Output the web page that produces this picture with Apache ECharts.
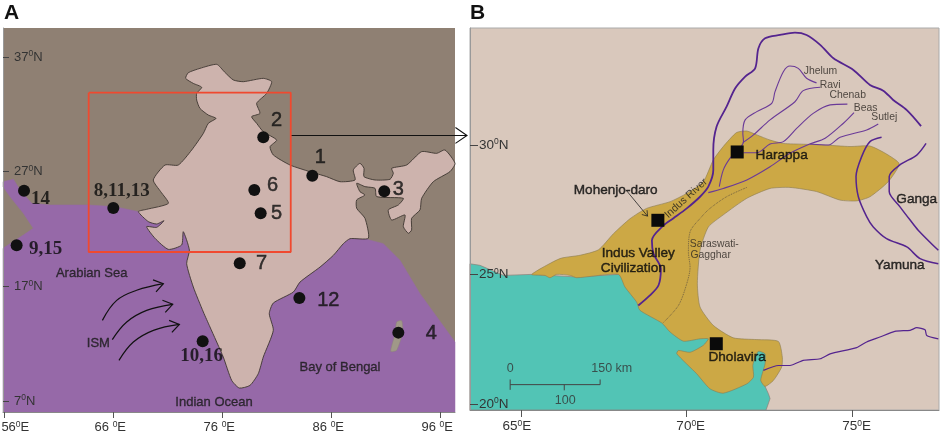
<!DOCTYPE html>
<html><head><meta charset="utf-8">
<script src="https://cdn.jsdelivr.net/npm/echarts@6/dist/echarts.min.js"></script>
<style>html,body{margin:0;padding:0;background:#fff}#c{width:941px;height:437px}</style>
</head><body><div id="c"></div>
<script>
// ---------- Panel A data (lon, lat) ----------
const indiaOutline=[[75.49,36.36],[76.2,35.7],[77.01,35.0],[77.93,34.85],[79.76,35.14],[80.53,34.85],[80.07,33.83],[79.15,32.96],[79.46,32.09],[78.69,31.8],[79.15,31.22],[79.76,30.49],[80.99,29.76],[80.38,29.18],[80.68,28.46],[82.22,27.58],[84.05,27.0],[85.57,26.57],[86.8,26.13],[88.18,26.28],[88.02,27.15],[88.63,27.73],[89.0,27.3],[89.0,26.57],[90.01,26.28],[91.39,26.34],[91.69,26.86],[91.54,27.3],[92.92,27.59],[94.29,28.75],[95.67,28.6],[96.43,28.9],[97.35,27.73],[96.89,27.01],[95.36,26.13],[94.29,24.68],[94.14,23.67],[93.37,22.94],[93.37,21.92],[93.07,21.63],[92.61,22.21],[92.76,23.23],[91.54,22.79],[91.23,23.67],[92.15,24.1],[92.61,24.68],[90.16,24.83],[90.01,25.55],[89.09,25.7],[88.33,25.99],[88.63,25.26],[89.09,24.97],[88.33,24.54],[88.33,23.81],[89.09,22.94],[89.4,21.2],[87.72,21.16],[87.11,20.73],[86.19,19.71],[84.97,18.69],[83.13,17.38],[82.52,16.51],[80.68,15.55],[80.31,14.62],[80.68,13.17],[79.76,10.84],[79.3,9.39],[78.54,8.37],[77.56,8.14],[76.86,8.81],[76.09,10.84],[74.87,13.46],[74.26,14.77],[73.34,16.95],[72.73,18.98],[72.98,20.17],[72.42,21.77],[72.27,20.61],[71.05,20.23],[69.83,21.19],[69.06,22.21],[69.98,22.15],[70.65,22.73],[69.98,22.44],[69.21,22.65],[68.3,23.52],[69.06,23.72],[71.05,24.24],[70.35,25.26],[69.67,26.28],[70.74,27.58],[71.96,27.58],[73.19,28.89],[74.26,30.34],[74.72,31.22],[75.42,31.65],[74.72,31.94],[73.95,32.52],[73.65,33.25],[73.65,33.83],[74.11,34.36],[73.34,34.7],[72.64,35.14],[72.88,35.63],[73.95,36.01]];
const oceanA=[[55.88,6.05],[55.88,20.32],[57.75,21.48],[58.66,22.06],[57.75,23.37],[56.52,24.83],[55.88,25.7],[55.88,26.13],[56.83,26.34],[57.44,25.41],[58.51,24.24],[60.19,24.1],[63.71,24.1],[66.16,23.95],[68.3,23.52],[72,23],[85,23],[88,22],[89.4,21.07],[90.77,20.73],[92.3,19.27],[94.14,16.37],[97.35,12.15],[97.35,6.05]];
const andaman=[[92.0,13.9],[92.46,14.0],[92.55,13.02],[92.0,11.43],[91.45,11.34],[91.85,12.88]];
const studyBox=[[63.74,33.89],[82.28,33.89],[82.28,20.0],[63.74,20.0],[63.74,33.89]];
const zoomArrow=[[82.28,30.16],[98.45,30.16]];
const ismArrow1=[[65.0,14.04],[66.31,15.78],[68.14,16.66],[70.59,17.24]];
const ismArrow2=[[65.91,12.36],[67.23,13.9],[69.06,14.91],[71.45,15.44]];
const ismArrow3=[[66.52,10.55],[67.84,12.15],[69.68,13.17],[72.06,13.69]];
const sites=[[84.26,26.65],[79.76,30.0],[90.86,25.29],[92.15,12.97],[79.52,23.37],[78.94,25.4],[77.6,19.01],[66.0,23.83],[57.13,20.58],[74.2,12.21],[83.07,15.99],[57.81,25.35]];
const siteNumbersSans=[[84.99,28.22,'1'],[80.99,31.51,'2'],[92.15,25.49,'3'],[95.18,12.88,'4'],[80.99,23.37,'5'],[80.62,25.78,'6'],[79.61,18.98,'7'],[85.73,15.73,'12']];
const siteNumbersSerif=[[66.77,25.35,'8,11,13'],[59.31,24.62,'14'],[59.79,20.29,'9,15'],[74.11,10.9,'10,16']];
const placeLabelsA=[[64.02,18.17,'Arabian Sea'],[64.63,12.06,'ISM'],[86.8,9.91,'Bay of Bengal'],[75.24,6.86,'Indian Ocean']];
const lonTicksA=[56,66,76,86,96];
const latTicksA=[7,17,27,37];

// ---------- Panel B data (lon, lat) ----------
const seaB=[[63.47,25.41],[63.77,25.35],[64.48,24.96],[65.33,25.0],[66.69,24.9],[67.94,25.0],[69.5,24.0],[70.6,22.6],[71.5,22.3],[72.2,22.2],[72.5,21.9],[72.5,21.0],[72.36,20.67],[72.46,20.39],[72.51,20.2],[72.39,19.76],[63.47,19.76]];
const civilization=[[71.81,30.54],[72.11,30.39],[72.51,30.19],[72.91,30.06],[73.51,30.03],[74.12,30.0],[74.92,29.94],[75.52,29.96],[76.02,29.65],[76.4,29.27],[76.07,28.58],[75.52,28.0],[75.12,27.84],[74.62,27.87],[73.91,28.2],[73.11,28.36],[72.51,28.32],[71.81,27.94],[71.1,27.3],[70.65,26.83],[70.4,25.93],[70.32,24.64],[70.4,23.74],[70.8,23.03],[71.4,22.55],[72.11,22.48],[72.76,22.41],[72.88,21.8],[72.86,21.42],[72.61,20.9],[72.36,20.67],[72.23,20.9],[72.29,21.23],[72.36,21.55],[72.36,21.93],[72.16,22.03],[72.06,21.81],[71.99,21.48],[72.01,21.03],[71.81,20.77],[71.1,20.41],[70.7,20.58],[70.3,21.16],[69.7,21.93],[69.75,22.06],[70.1,21.99],[70.5,22.26],[70.65,22.51],[70.4,22.51],[69.9,22.42],[69.5,22.77],[69.25,23.12],[68.59,23.61],[68.49,23.93],[68.14,24.51],[67.94,25.0],[66.69,24.87],[66.49,24.96],[66.08,25.0],[65.88,24.87],[65.73,24.96],[65.33,25.0],[66.18,25.61],[66.79,25.74],[67.34,25.95],[67.79,26.57],[68.29,27.15],[68.79,27.55],[69.5,27.81],[70.0,28.13],[70.5,28.58],[70.8,29.42],[71.1,29.94],[71.5,30.48]];
const indusRiver=[[77.06,30.73],[76.63,31.35],[76.22,31.74],[75.92,32.1],[75.52,32.32],[75.02,32.9],[74.42,33.35],[74.02,33.87],[73.61,34.25],[73.26,34.34],[72.81,34.25],[72.36,34.12],[72.16,33.74],[72.06,32.96],[71.76,32.64],[71.46,32.19],[71.2,31.48],[70.9,30.71],[70.8,29.81],[70.8,29.03],[70.65,28.39],[70.4,28.0],[70.0,27.55],[69.6,27.17],[69.3,26.89],[68.95,26.31],[69.0,25.8],[69.22,25.22],[69.15,24.58],[68.89,24.19],[68.54,23.8]];
const jhelum=[[73.91,32.4],[73.61,32.58],[73.36,32.96],[73.11,33.05],[72.91,32.83],[72.66,32.06],[72.56,31.61],[72.11,31.29],[71.76,30.97],[71.69,30.45],[71.71,30.13],[71.3,29.48],[71.1,29.03],[70.98,28.39]];
const ravi=[[74.02,32.23],[73.51,32.1],[73.26,31.67],[72.51,30.97],[72.01,30.39],[71.69,30.09]];
const chenab=[[74.84,31.58],[74.32,31.55],[73.81,31.22],[73.31,30.64],[72.91,30.13],[72.51,30.04],[72.11,29.7],[71.71,29.7]];
const beas=[[75.04,31.25],[74.72,30.84],[74.17,30.26],[73.71,30.04],[73.11,29.68],[72.51,29.16],[71.81,28.65],[71.1,28.32],[70.65,28.16]];
const sutlej=[[75.77,30.81],[75.42,30.58],[74.62,30.3],[74.27,30.0],[73.71,30.04]];
const yamuna=[[75.87,30.3],[75.52,30.13],[75.27,29.55],[75.1,28.78],[75.17,28.0],[75.42,27.23],[75.62,26.83],[76.02,26.38],[76.63,26.06],[77.03,25.61],[77.58,25.41]];
const ganga=[[77.21,30.06],[76.93,29.61],[76.42,29.23],[76.1,28.78],[76.1,28.2],[76.42,27.62],[76.73,27.1],[76.98,26.7],[77.58,25.93]];
const southRiver=[[72.31,21.29],[72.76,21.48],[73.11,21.48],[73.51,21.68],[74.02,21.74],[74.32,21.93],[75.12,22.17],[75.42,22.39],[75.82,22.58],[76.27,22.8],[76.73,22.84],[76.93,22.94],[77.18,22.86],[77.23,22.64],[77.58,22.51]];
const saraswati=[[71.81,28.36],[71.2,28.0],[70.7,27.55],[70.45,27.23],[70.1,26.64],[70.05,25.86],[70.1,25.28],[70.0,24.64],[69.75,23.8],[69.28,23.12]];
const towns=[[71.52,29.73],[69.13,27.09],[70.89,22.32]];
const townLabels=[[72.86,29.59,'Harappa'],[67.86,28.24,'Mohenjo-daro'],[71.52,21.78,'Dholavira'],[68.54,25.8,'Indus Valley'],[68.39,25.25,'Civilization'],[76.93,27.9,'Ganga'],[76.42,25.37,'Yamuna']];
const riverLabels=[[74.03,32.85,'Jhelum'],[74.32,32.33,'Ravi'],[74.85,31.92,'Chenab'],[75.39,31.44,'Beas'],[75.95,31.07,'Sutlej'],[70.83,26.16,'Saraswati-'],[70.72,25.73,'Gagghar']];
const indusLabel=[[69.98,27.94,'Indus River']];
const mohenjoArrow=[[68.17,28.26],[68.82,27.25]];
const scaleLine=[[64.68,20.74],[67.39,20.74]];
const scaleTick0=[[64.68,20.94],[64.68,20.54]];
const scaleTick100=[[66.31,20.74],[66.31,20.52]];
const scaleTick150=[[67.39,20.94],[67.39,20.74]];
const scaleLabels=[[64.68,21.35,'0'],[67.74,21.35,'150 km'],[66.34,20.13,'100']];
const lonTicksB=[65,70,75];
const latTicksB=[20,25,30];

// ---------- helpers ----------
const ink='#111';
function polygon(pts,ax,fill,stroke,lw,z,smooth){
  return {type:'custom',xAxisIndex:ax,yAxisIndex:ax,z:z,silent:true,data:pts,encode:{x:0,y:1},
    renderItem:(p,api)=>p.dataIndex!==0?null:{type:'polygon',
      shape:{points:pts.map(q=>api.coord(q)),smooth:smooth||0},
      style:{fill:fill,stroke:stroke,lineWidth:lw}}};
}
function path(pts,ax,color,w,z,smooth,dash){
  return {type:'line',xAxisIndex:ax,yAxisIndex:ax,z:z,silent:true,data:pts,showSymbol:false,symbol:'none',
    smooth:smooth||false,clip:false,lineStyle:{color:color,width:w,type:dash||'solid'}};
}
function arrow(pts,ax,color,w,z,head,smooth){
  return {type:'custom',xAxisIndex:ax,yAxisIndex:ax,z:z,silent:true,data:pts,encode:{x:0,y:1},clip:false,
    renderItem:(p,api)=>{
      if(p.dataIndex!==0)return null;
      const c=pts.map(q=>api.coord(q)),n=c.length,a=c[n-1],b=c[n-2];
      const t=Math.atan2(a[1]-b[1],a[0]-b[0]);
      const wing=s=>[a[0]-head*Math.cos(t+s),a[1]-head*Math.sin(t+s)];
      const st={stroke:color,lineWidth:w,fill:null};
      return {type:'group',children:[
        {type:'polyline',shape:{points:c,smooth:smooth||0},style:st},
        {type:'polyline',shape:{points:[wing(0.6),a,wing(-0.6)]},style:st}]};
    }};
}
function labels(rows,ax,size,color,extra,z){
  return {type:'scatter',xAxisIndex:ax,yAxisIndex:ax,z:z||8,silent:true,symbolSize:1,clip:false,
    itemStyle:{color:'rgba(0,0,0,0)'},data:rows,
    label:Object.assign({show:true,position:'inside',formatter:p=>p.data[2],fontSize:size,color:color,
      fontFamily:'"Liberation Sans",Arial,sans-serif'},extra||{})};
}
function marks(pts,ax,symbol,size,color){
  return {type:'scatter',xAxisIndex:ax,yAxisIndex:ax,z:6,silent:true,symbol:symbol,symbolSize:size,
    itemStyle:{color:color,opacity:1},data:pts};
}
const rich={s:{fontSize:8.5,color:'#333',verticalAlign:'top',lineHeight:15,fontFamily:'"Liberation Sans"'},
            n:{fontSize:13,color:'#333',fontFamily:'"Liberation Sans"',lineHeight:15},
            b:{fontSize:13.5,color:'#333',fontFamily:'"Liberation Sans"',lineHeight:15},
            p1:{width:22,fontSize:13,lineHeight:15},p2:{width:6,fontSize:13,lineHeight:15},p3:{width:8,fontSize:13,lineHeight:15}};
const axisCommonX={type:'value',position:'bottom',splitLine:{show:false},z:10,
  axisLine:{show:true,onZero:false,lineStyle:{color:'#888',width:1}}};
const axisCommonY={type:'value',position:'left',splitLine:{show:false},z:10,
  axisLine:{show:true,onZero:false,lineStyle:{color:'#999',width:1}}};

const chart=echarts.init(document.getElementById('c'),null,{renderer:'canvas'});
chart.setOption({
  animation:false,backgroundColor:'#fff',
  title:[
    {text:'A',left:4,top:3,padding:0,textStyle:{fontSize:21,fontWeight:'bold',color:'#111',fontFamily:'"Liberation Sans"'}},
    {text:'B',left:470,top:3,padding:0,textStyle:{fontSize:21,fontWeight:'bold',color:'#111',fontFamily:'"Liberation Sans"'}}
  ],
  grid:[
    {left:3,top:28,width:452,height:384,show:true,backgroundColor:'#8f8073',borderWidth:0,outerBoundsMode:'none'},
    {left:470,top:28,width:469,height:382,show:true,backgroundColor:'#d9c8bc',borderColor:'#aaa',borderWidth:1,outerBoundsMode:'none'}
  ],
  xAxis:[
    Object.assign({},axisCommonX,{gridIndex:0,min:55.88,max:97.35,
      axisTick:{show:true,length:6,customValues:lonTicksA,lineStyle:{color:'#555'}},
      axisLabel:{customValues:lonTicksA,margin:8,
        formatter:v=>v===56?'{p1| }{n|56}{s|0}{n|E}':'{n|'+v+' }{s|0}{n|E}{p2| }',rich:rich}}),
    Object.assign({},axisCommonX,{gridIndex:1,min:63.47,max:77.6,
      axisTick:{show:true,length:7,customValues:lonTicksB,lineStyle:{color:'#555'}},
      axisLabel:{customValues:lonTicksB,margin:9,
        formatter:v=>(v===65?'':'{p3| }')+'{b|'+v+'}{s|0}{b|E}'+(v===65?'{p3| }':''),rich:rich}})
  ],
  yAxis:[
    Object.assign({},axisCommonY,{gridIndex:0,min:6.05,max:39.53,
      axisTick:{show:true,inside:true,length:6,customValues:latTicksA,lineStyle:{color:'#444'}},
      axisLabel:{inside:true,margin:11,customValues:latTicksA,
        formatter:v=>'{n|'+v+'}{s|0}{n|N}',rich:rich}}),
    Object.assign({},axisCommonY,{gridIndex:1,min:19.76,max:34.52,
      axisTick:{show:true,inside:true,length:8,customValues:latTicksB,lineStyle:{color:'#444'}},
      axisLabel:{inside:true,margin:9,customValues:latTicksB,
        formatter:v=>'{b|'+v+'}{s|0}{b|N}',rich:rich}})
  ],
  series:[
    polygon(oceanA,0,'#9669a8','#9669a8',0.5,2,0),
    polygon(indiaOutline,0,'#cdb3ad','#3d3530',0.9,3,0.2),
    polygon(andaman,0,'#a09888','#8b8478',0.5,3,0.2),
    path(studyBox,0,'#f0492f',1.8,5),
    arrow(zoomArrow,0,'#111',1.1,5,14,0),
    arrow(ismArrow1,0,ink,1.2,5,11,0.4),
    arrow(ismArrow2,0,ink,1.2,5,11,0.4),
    arrow(ismArrow3,0,ink,1.2,5,11,0.4),
    marks(sites,0,'circle',12,'#111'),
    labels(siteNumbersSans,0,20,'#111',{textBorderColor:'#111',textBorderWidth:0.5}),
    labels(siteNumbersSerif,0,19,'#0a0a0a',{fontFamily:'"Liberation Serif"',fontWeight:'bold'}),
    labels(placeLabelsA,0,13,'#1a1a1a',{textBorderColor:'#1a1a1a',textBorderWidth:0.35}),

    polygon(seaB,1,'#52c4b5','#8a8078',0.7,2,0),
    polygon(civilization,1,'#cca845','#8a7a50',0.6,3,0.2),
    path(indusRiver,1,'#54248f',1.8,4,0.3),
    path(yamuna,1,'#54248f',1.5,4,0.3),
    path(ganga,1,'#54248f',1.5,4,0.3),
    path(southRiver,1,'#54248f',1.2,4,0.2),
    path(jhelum,1,'#6a3a98',1.1,4,0.3),
    path(ravi,1,'#6a3a98',1.1,4,0.3),
    path(chenab,1,'#6a3a98',1.1,4,0.3),
    path(beas,1,'#6a3a98',1.1,4,0.3),
    path(sutlej,1,'#6a3a98',1.1,4,0.3),
    path(saraswati,1,'#6a5a40',0.9,4,0.3,'dotted'),
    arrow(mohenjoArrow,1,'#222',0.8,5,6,0),
    path(scaleLine,1,'#444',1,5),
    path(scaleTick0,1,'#444',1,5),
    path(scaleTick100,1,'#444',1,5),
    path(scaleTick150,1,'#444',1,5),
    marks(towns,1,'rect',13,'#0a0a0a'),
    labels(townLabels,1,13.6,'#0a0a0a',{textBorderColor:'#0a0a0a',textBorderWidth:0.45}),
    labels(riverLabels,1,10.4,'#2a2520'),
    labels(indusLabel,1,10.6,'#1a1a1a',{rotate:42}),
    labels(scaleLabels,1,12.5,'#333')
  ]
});
</script></body></html>
